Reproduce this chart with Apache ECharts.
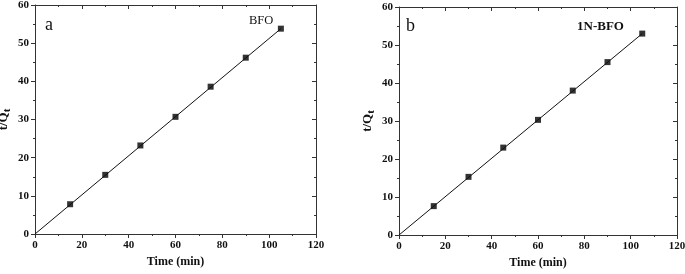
<!DOCTYPE html>
<html>
<head>
<meta charset="utf-8">
<script src="https://cdn.jsdelivr.net/npm/echarts@6/dist/echarts.min.js"></script>
<style>
  html, body { margin: 0; padding: 0; background: #fff; }
  #chart { width: 685px; height: 274px; }
</style>
</head>
<body>
<div id="chart"></div>
<script>
// time (min)
const timeMin = [15, 30, 45, 60, 75, 90, 105];
// t/Qt
const bfoVals = [7.8, 15.5, 23.2, 30.7, 38.6, 46.2, 53.8];
const nBfoVals = [7.6, 15.3, 23.0, 30.3, 38.0, 45.5, 53.0];
// fitted lines, from origin to last point
const fitX = [0, 105];
const bfoFit = [0, 53.8];
const nBfoFit = [0, 53.0];

const FONT = "Liberation Serif";
const axisColor = "#333";

function pts(xs, ys) {
  return xs.map((x, i) => [x, ys[i]]);
}

function xAxes(gridIndex) {
  return [
    {
      gridIndex: gridIndex, type: "value", min: 0, max: 120, interval: 20,
      position: "bottom",
      name: "Time (min)", nameLocation: "middle", nameGap: 21,
      nameTextStyle: { fontFamily: FONT, fontWeight: "bold", fontSize: 12, color: "#111" },
      axisLine: { onZero: false, lineStyle: { color: axisColor, width: 1 } },
      axisTick: { inside: false, length: 4, lineStyle: { color: axisColor } },
      minorTick: { show: true, splitNumber: 2, length: 2, lineStyle: { color: axisColor } },
      axisLabel: { fontFamily: FONT, fontWeight: "bold", fontSize: 11, color: "#111", margin: 6 },
      splitLine: { show: false },
    },
    {
      gridIndex: gridIndex, type: "value", min: 0, max: 120, interval: 20,
      position: "top",
      axisLine: { onZero: false, lineStyle: { color: axisColor, width: 1 } },
      axisTick: { inside: true, length: 4, lineStyle: { color: axisColor } },
      minorTick: { show: true, splitNumber: 2, length: 2, lineStyle: { color: axisColor } },
      axisLabel: { show: false },
      splitLine: { show: false },
    },
  ];
}

function yAxes(gridIndex) {
  return [
    {
      gridIndex: gridIndex, type: "value", min: 0, max: 60, interval: 10,
      position: "left",
      name: "{a|t/Q}{s|t}", nameLocation: "middle", nameGap: 22, nameRotate: 90,
      nameTextStyle: {
        rich: {
          a: { fontFamily: FONT, fontWeight: "bold", fontSize: 13, color: "#111" },
          s: { fontFamily: FONT, fontWeight: "bold", fontSize: 11, color: "#111", padding: [7, 0, 0, 0] },
        },
      },
      axisLine: { onZero: false, lineStyle: { color: axisColor, width: 1 } },
      axisTick: { inside: false, length: 4, lineStyle: { color: axisColor } },
      minorTick: { show: true, splitNumber: 2, length: 2, lineStyle: { color: axisColor } },
      axisLabel: { fontFamily: FONT, fontWeight: "bold", fontSize: 11, color: "#111", margin: 6 },
      splitLine: { show: false },
    },
    {
      gridIndex: gridIndex, type: "value", min: 0, max: 60, interval: 10,
      position: "right",
      axisLine: { onZero: false, lineStyle: { color: axisColor, width: 1 } },
      axisTick: { inside: true, length: 4, lineStyle: { color: axisColor } },
      minorTick: { show: true, splitNumber: 2, length: 2, lineStyle: { color: axisColor } },
      axisLabel: { show: false },
      splitLine: { show: false },
    },
  ];
}

const chart = echarts.init(document.getElementById("chart"), null, { renderer: "canvas" });

const option = {
  animation: false,
  backgroundColor: "#fff",
  grid: [
    { left: 35, right: 369, top: 5, bottom: 40, outerBoundsMode: "none" },
    { left: 399, right: 8, top: 7, bottom: 39, outerBoundsMode: "none" },
  ],
  xAxis: [...xAxes(0), ...xAxes(1)],
  yAxis: [...yAxes(0), ...yAxes(1)],
  graphic: [
    { type: "text", left: 45, top: 16, style: { text: "a", font: "18px " + FONT, fill: "#111" } },
    { type: "text", left: 249, top: 14, style: { text: "BFO", font: "12.5px " + FONT, fill: "#111" } },
    { type: "text", left: 406, top: 17, style: { text: "b", font: "18px " + FONT, fill: "#111" } },
    { type: "text", left: 577, top: 20, style: { text: "1N-BFO", font: "bold 13px " + FONT, fill: "#111" } },
  ],
  series: [
    {
      type: "line", xAxisIndex: 0, yAxisIndex: 0, data: pts(fitX, bfoFit),
      symbol: "none", lineStyle: { color: "#111", width: 1 },
    },
    {
      type: "scatter", xAxisIndex: 0, yAxisIndex: 0, data: pts(timeMin, bfoVals),
      symbol: "rect", symbolSize: 6, itemStyle: { color: "#000" },
    },
    {
      type: "line", xAxisIndex: 2, yAxisIndex: 2, data: pts(fitX, nBfoFit),
      symbol: "none", lineStyle: { color: "#111", width: 1 },
    },
    {
      type: "scatter", xAxisIndex: 2, yAxisIndex: 2, data: pts(timeMin, nBfoVals),
      symbol: "rect", symbolSize: 6, itemStyle: { color: "#000" },
    },
  ],
};

chart.setOption(option);
</script>
</body>
</html>
